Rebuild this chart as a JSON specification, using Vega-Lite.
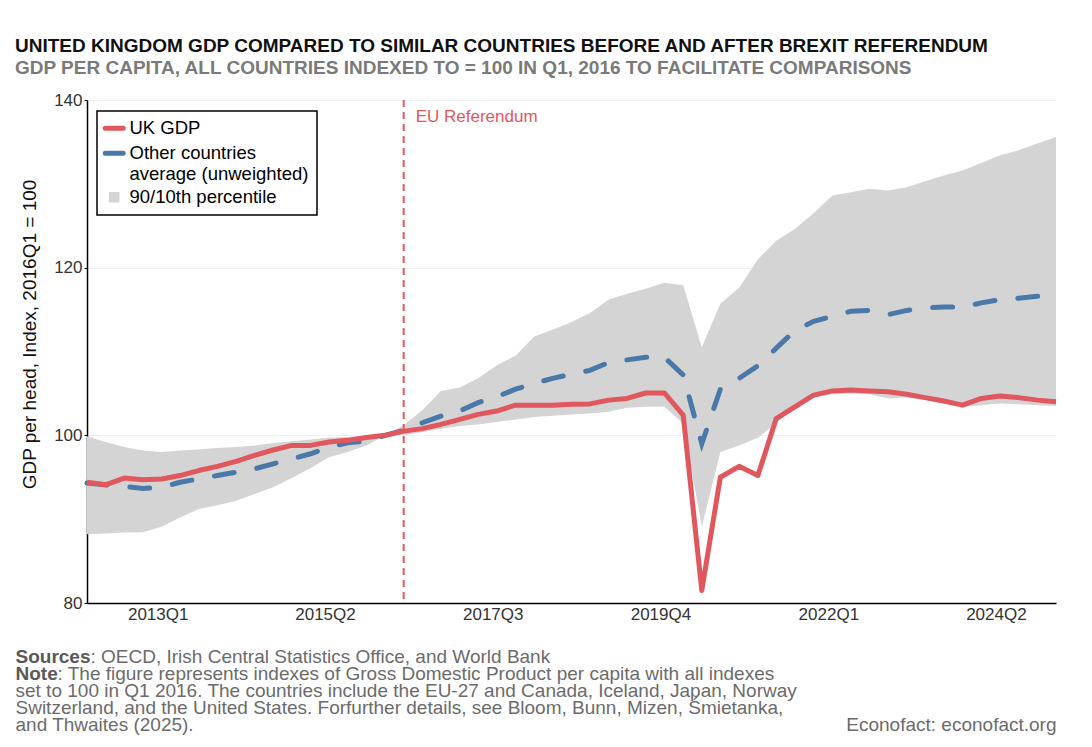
{
  "$schema": "https://vega.github.io/schema/vega-lite/v6.json",
  "width": 969,
  "height": 503,
  "autosize": {"type": "none"},
  "padding": {"left": 87, "top": 100, "right": 36, "bottom": 144},
  "background": "white",
  "config": {"font": "Liberation Sans", "view": {"stroke": null}},
  "title": {
    "text": "UNITED KINGDOM GDP COMPARED TO SIMILAR COUNTRIES BEFORE AND AFTER BREXIT REFERENDUM",
    "subtitle": "GDP PER CAPITA, ALL COUNTRIES INDEXED TO = 100 IN Q1, 2016 TO FACILITATE COMPARISONS",
    "anchor": "start",
    "frame": "group",
    "dx": -72,
    "offset": 13,
    "font": "Liberation Sans",
    "fontSize": 19,
    "fontWeight": "bold",
    "color": "#111111",
    "subtitleFont": "Liberation Sans",
    "subtitleFontSize": 19,
    "subtitleFontWeight": "bold",
    "subtitleColor": "#7a7a7a",
    "subtitlePadding": 3
  },
  "data": {
    "values": [
      {"d": "2012-01-01", "uk": 94.4, "avg": 94.3, "p10": 88.2, "p90": 99.9},
      {"d": "2012-04-01", "uk": 94.1, "avg": 94.1, "p10": 88.3, "p90": 99.2},
      {"d": "2012-07-01", "uk": 94.9, "avg": 93.9, "p10": 88.4, "p90": 98.6},
      {"d": "2012-10-01", "uk": 94.7, "avg": 93.65, "p10": 88.45, "p90": 98.2},
      {"d": "2013-01-01", "uk": 94.8, "avg": 93.8, "p10": 89.1, "p90": 98.0},
      {"d": "2013-04-01", "uk": 95.2, "avg": 94.4, "p10": 90.2, "p90": 98.2},
      {"d": "2013-07-01", "uk": 95.8, "avg": 94.8, "p10": 91.2, "p90": 98.3},
      {"d": "2013-10-01", "uk": 96.3, "avg": 95.2, "p10": 91.65, "p90": 98.5},
      {"d": "2014-01-01", "uk": 96.9, "avg": 95.6, "p10": 92.2, "p90": 98.6},
      {"d": "2014-04-01", "uk": 97.6, "avg": 96.0, "p10": 93.0, "p90": 98.8},
      {"d": "2014-07-01", "uk": 98.25, "avg": 96.6, "p10": 93.8, "p90": 99.1},
      {"d": "2014-10-01", "uk": 98.8, "avg": 97.2, "p10": 94.9, "p90": 99.3},
      {"d": "2015-01-01", "uk": 98.8, "avg": 97.8, "p10": 96.1, "p90": 99.5},
      {"d": "2015-04-01", "uk": 99.2, "avg": 98.6, "p10": 97.4, "p90": 99.7},
      {"d": "2015-07-01", "uk": 99.4, "avg": 99.1, "p10": 98.0, "p90": 99.8},
      {"d": "2015-10-01", "uk": 99.75, "avg": 99.3, "p10": 98.8, "p90": 99.95},
      {"d": "2016-01-01", "uk": 100.0, "avg": 100.0, "p10": 100.0, "p90": 100.0},
      {"d": "2016-04-01", "uk": 100.5, "avg": 100.6, "p10": 100.0, "p90": 101.2},
      {"d": "2016-07-01", "uk": 100.8, "avg": 101.5, "p10": 100.4, "p90": 103.0},
      {"d": "2016-10-01", "uk": 101.3, "avg": 102.3, "p10": 100.8, "p90": 105.3},
      {"d": "2017-01-01", "uk": 101.9, "avg": 102.9, "p10": 101.1, "p90": 105.7},
      {"d": "2017-04-01", "uk": 102.5, "avg": 103.9, "p10": 101.3, "p90": 106.8},
      {"d": "2017-07-01", "uk": 102.9, "avg": 104.6, "p10": 101.6, "p90": 108.35},
      {"d": "2017-10-01", "uk": 103.6, "avg": 105.5, "p10": 101.9, "p90": 109.5},
      {"d": "2018-01-01", "uk": 103.6, "avg": 106.2, "p10": 102.2, "p90": 111.8},
      {"d": "2018-04-01", "uk": 103.6, "avg": 106.8, "p10": 102.35, "p90": 112.6},
      {"d": "2018-07-01", "uk": 103.7, "avg": 107.3, "p10": 102.5, "p90": 113.5},
      {"d": "2018-10-01", "uk": 103.75, "avg": 107.75, "p10": 102.6, "p90": 114.6},
      {"d": "2019-01-01", "uk": 104.2, "avg": 108.7, "p10": 102.8, "p90": 116.2},
      {"d": "2019-04-01", "uk": 104.4, "avg": 109.0, "p10": 103.3, "p90": 116.9},
      {"d": "2019-07-01", "uk": 105.05, "avg": 109.3, "p10": 103.4, "p90": 117.5},
      {"d": "2019-10-01", "uk": 105.05, "avg": 109.3, "p10": 103.4, "p90": 118.2},
      {"d": "2020-01-01", "uk": 102.4, "avg": 107.2, "p10": 101.4, "p90": 117.9},
      {"d": "2020-04-01", "uk": 81.5, "avg": 99.0, "p10": 89.1, "p90": 110.5},
      {"d": "2020-07-01", "uk": 95.0, "avg": 105.5, "p10": 98.0, "p90": 115.7},
      {"d": "2020-10-01", "uk": 96.3, "avg": 106.8, "p10": 98.8, "p90": 117.6},
      {"d": "2021-01-01", "uk": 95.2, "avg": 108.3, "p10": 99.7, "p90": 121.0},
      {"d": "2021-04-01", "uk": 102.0, "avg": 110.4, "p10": 101.5, "p90": 123.2},
      {"d": "2021-07-01", "uk": 103.4, "avg": 112.5, "p10": 103.3, "p90": 124.6},
      {"d": "2021-10-01", "uk": 104.8, "avg": 113.6, "p10": 104.5, "p90": 126.5},
      {"d": "2022-01-01", "uk": 105.3, "avg": 114.2, "p10": 104.9, "p90": 128.6},
      {"d": "2022-04-01", "uk": 105.4, "avg": 114.8, "p10": 105.0, "p90": 129.0},
      {"d": "2022-07-01", "uk": 105.3, "avg": 114.9, "p10": 104.9, "p90": 129.4},
      {"d": "2022-10-01", "uk": 105.2, "avg": 114.4, "p10": 104.4, "p90": 129.2},
      {"d": "2023-01-01", "uk": 104.9, "avg": 114.9, "p10": 104.5, "p90": 129.6},
      {"d": "2023-04-01", "uk": 104.5, "avg": 115.2, "p10": 104.2, "p90": 130.3},
      {"d": "2023-07-01", "uk": 104.1, "avg": 115.3, "p10": 103.8, "p90": 131.0},
      {"d": "2023-10-01", "uk": 103.6, "avg": 115.3, "p10": 103.4, "p90": 131.6},
      {"d": "2024-01-01", "uk": 104.4, "avg": 115.8, "p10": 103.6, "p90": 132.5},
      {"d": "2024-04-01", "uk": 104.7, "avg": 116.2, "p10": 103.8, "p90": 133.4},
      {"d": "2024-07-01", "uk": 104.5, "avg": 116.35, "p10": 103.7, "p90": 134.0},
      {"d": "2024-10-01", "uk": 104.2, "avg": 116.6, "p10": 103.6, "p90": 134.8},
      {"d": "2025-01-01", "uk": 104.0, "avg": 116.6, "p10": 103.5, "p90": 135.6}
    ]
  },
  "layer": [
    {
      "mark": {"type": "area", "color": "#d4d4d4"},
      "encoding": {
        "x": {
          "field": "d",
          "type": "temporal",
          "scale": {
            "type": "utc",
            "domain": [
              {"year": 2012, "month": 1, "date": 1, "utc": true},
              {"year": 2025, "month": 1, "date": 1, "utc": true}
            ]
          },
          "axis": {
            "orient": "bottom",
            "values": [
              {"year": 2013, "quarter": 1, "utc": true},
              {"year": 2015, "quarter": 2, "utc": true},
              {"year": 2017, "quarter": 3, "utc": true},
              {"year": 2019, "quarter": 4, "utc": true},
              {"year": 2022, "quarter": 1, "utc": true},
              {"year": 2024, "quarter": 2, "utc": true}
            ],
            "format": "%YQ%q",
            "labelFontSize": 17,
            "labelColor": "#333333",
            "labelPadding": 3,
            "labelOffset": -4,
            "labelFlush": false,
            "labelOverlap": false,
            "ticks": false,
            "grid": false,
            "domainColor": "#000000",
            "domainWidth": 1.5,
            "title": [
              "set to 100 in Q1 2016. The countries include the EU-27 and Canada, Iceland, Japan, Norway",
              "Switzerland, and the United States. Forfurther details, see Bloom, Bunn, Mizen, Śmietanka,",
              "and Thwaites (2025)."
            ],
            "titleFontSize": 19,
            "titleFontWeight": "normal",
            "titleColor": "#6b6b6b",
            "titleAnchor": "start",
            "titleAlign": "left",
            "titleBaseline": "alphabetic",
            "titleLineHeight": 17.2,
            "titleX": -72,
            "titleY": 93
          }
        },
        "y": {
          "field": "p10",
          "type": "quantitative",
          "scale": {"domain": [80, 140], "nice": false, "zero": false},
          "axis": {
            "values": [80, 100, 120, 140],
            "title": "GDP per head, Index, 2016Q1 = 100",
            "titleFontSize": 19,
            "titleFontWeight": "normal",
            "titleColor": "#111111",
            "titlePadding": 14,
            "titleY": 234,
            "labelFontSize": 17,
            "labelColor": "#333333",
            "labelPadding": 2,
            "tickSize": 3,
            "tickColor": "#000000",
            "domainColor": "#000000",
            "domainWidth": 1.5,
            "grid": true,
            "gridColor": "#f0f0f0"
          }
        },
        "y2": {"field": "p90"},
        "color": {
          "datum": "band",
          "scale": {
            "domain": ["uk", "avg", "band"],
            "range": ["#e0575e", "#4a79a9", "#d4d4d4"]
          },
          "legend": {
            "orient": "none",
            "legendX": 10,
            "legendY": 11,
            "title": null,
            "symbolType": "stroke",
            "symbolSize": 324,
            "symbolStrokeWidth": 5,
            "labelFontSize": 18.5,
            "labelColor": "#000000",
            "labelLimit": 300,
            "labelOffset": 6,
            "rowPadding": 4,
            "padding": 8,
            "strokeColor": "#000000",
            "fillColor": "#ffffff",
            "cornerRadius": 0,
            "encode": {
              "legend": {"update": {"strokeWidth": {"value": 1.5}}},
              "symbols": {
                "update": {
                  "shape": {"signal": "datum.value === 'band' ? 'square' : 'stroke'"},
                  "size": {"signal": "datum.value === 'band' ? 110 : 324"},
                  "strokeWidth": {"signal": "datum.value === 'band' ? 0 : 5"},
                  "strokeDash": {"value": [1, 0]},
                  "strokeCap": {"value": "round"},
                  "fill": {"signal": "datum.value === 'band' ? '#d4d4d4' : 'transparent'"},
                  "stroke": {"signal": "datum.value === 'uk' ? '#e0575e' : datum.value === 'avg' ? '#4a79a9' : '#d4d4d4'"},
                  "opacity": {"value": 1}
                }
              },
              "labels": {
                "update": {
                  "text": {"signal": "datum.value === 'uk' ? 'UK GDP' : datum.value === 'avg' ? ['Other countries', 'average (unweighted)'] : '90/10th percentile'"},
                  "lineHeight": {"value": 21}
                }
              }
            }
          }
        }
      }
    },
    {
      "mark": {"type": "line", "strokeWidth": 5, "strokeDash": [20, 23], "strokeCap": "round"},
      "encoding": {
        "x": {
          "field": "d",
          "type": "temporal",
          "axis": {
            "orient": "bottom",
            "domain": false,
            "ticks": false,
            "labels": false,
            "grid": false,
            "title": "Econofact: econofact.org",
            "titleFontSize": 19,
            "titleFontWeight": "normal",
            "titleColor": "#6b6b6b",
            "titleAnchor": "end",
            "titleAlign": "right",
            "titleBaseline": "alphabetic",
            "titleX": 969,
            "titleY": 127
          }
        },
        "y": {"field": "avg", "type": "quantitative"},
        "color": {"datum": "avg"}
      }
    },
    {
      "mark": {"type": "line", "strokeWidth": 5, "strokeJoin": "round"},
      "encoding": {
        "x": {
          "field": "d",
          "type": "temporal",
          "axis": {
            "orient": "bottom",
            "domain": false,
            "ticks": false,
            "labels": false,
            "grid": false,
            "title": ["Sources", "Note"],
            "titleFontSize": 19,
            "titleFontWeight": "bold",
            "titleColor": "#595959",
            "titleAnchor": "start",
            "titleAlign": "left",
            "titleBaseline": "alphabetic",
            "titleLineHeight": 17.2,
            "titleX": -72,
            "titleY": 59
          }
        },
        "y": {"field": "uk", "type": "quantitative"},
        "color": {"datum": "uk"}
      }
    },
    {
      "data": {"values": [{"d": "2016-04-01", "label": "EU Referendum"}]},
      "mark": {"type": "rule", "color": "#e0575e", "strokeWidth": 2, "strokeDash": [7, 5]},
      "encoding": {
        "x": {
          "field": "d",
          "type": "temporal",
          "axis": {
            "orient": "bottom",
            "domain": false,
            "ticks": false,
            "labels": false,
            "grid": false,
            "title": ": OECD, Irish Central Statistics Office, and World Bank",
            "titleFontSize": 19,
            "titleFontWeight": "normal",
            "titleColor": "#6b6b6b",
            "titleAnchor": "start",
            "titleAlign": "left",
            "titleBaseline": "alphabetic",
            "titleX": 3,
            "titleY": 59
          }
        }
      }
    },
    {
      "data": {"values": [{"d": "2016-04-01", "label": "EU Referendum"}]},
      "mark": {"type": "text", "align": "left", "baseline": "middle", "dx": 12, "fontSize": 17, "color": "#e0575e"},
      "encoding": {
        "x": {
          "field": "d",
          "type": "temporal",
          "axis": {
            "orient": "bottom",
            "domain": false,
            "ticks": false,
            "labels": false,
            "grid": false,
            "title": ": The figure represents indexes of Gross Domestic Product per capita with all indexes",
            "titleFontSize": 19,
            "titleFontWeight": "normal",
            "titleColor": "#6b6b6b",
            "titleAnchor": "start",
            "titleAlign": "left",
            "titleBaseline": "alphabetic",
            "titleX": -30,
            "titleY": 76.2
          }
        },
        "y": {"datum": 138},
        "text": {"field": "label"}
      }
    }
  ],
  "resolve": {"axis": {"x": "independent"}}
}
